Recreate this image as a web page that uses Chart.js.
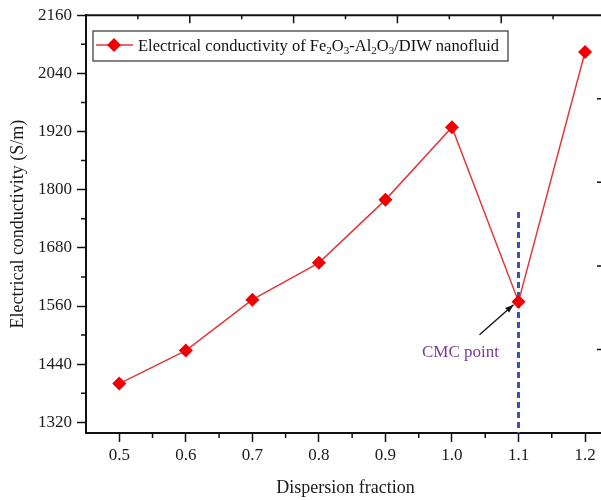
<!DOCTYPE html>
<html>
<head>
<meta charset="utf-8">
<script src="https://cdn.jsdelivr.net/npm/chart.js@4/dist/chart.umd.min.js"></script>
<style>
  html, body { margin: 0; padding: 0; background: #fff; overflow: hidden; }
  #wrap { width: 612px; height: 500px; }
</style>
</head>
<body>
<div id="wrap"><canvas id="chart1" width="612" height="500"></canvas></div>
<script>
const fractions = [0.5, 0.6, 0.7, 0.8, 0.9, 1.0, 1.1, 1.2];
const conductivity = [1400, 1468, 1573, 1649, 1779, 1929, 1569, 2084];

// CMC marker line
const cmcFraction = 1.1;
const cmcLineRange = [1754, 1298];

const xRange = [0.45, 1.23];
const yRange = [1298, 2160];

const legendParts = [
    ['Electrical conductivity of Fe', false], ['2', true], ['O', false], ['3', true],
    ['-Al', false], ['2', true], ['O', false], ['3', true], ['/DIW nanofluid', false]
];

const serif = '"Liberation Serif", "Times New Roman", serif';
const lineRed = '#e0393a';
const markRed = '#f00000';

// minor ticks on the bottom/left axes, plus the inward ticks of the top and right frame
const framePlugin = {
    id: 'frame',
    afterDraw(chart) {
        const { ctx, chartArea: a, scales } = chart;
        ctx.save();
        ctx.strokeStyle = '#111';
        ctx.lineWidth = 1.5;
        ctx.beginPath();
        for (let v = 0.55; v < xRange[1]; v += 0.1) {
            const px = scales.x.getPixelForValue(v);
            ctx.moveTo(px, a.bottom); ctx.lineTo(px, a.bottom + 5);
        }
        for (let v = 1380; v < yRange[1]; v += 120) {
            const py = scales.y.getPixelForValue(v);
            ctx.moveTo(a.left, py); ctx.lineTo(a.left - 5, py);
        }
        for (let i = 1; i < 10; i++) {
            const px = a.left + i * (a.right - a.left) / 10;
            const len = i % 2 ? 4 : 8;
            ctx.moveTo(px, a.top); ctx.lineTo(px, a.top + len);
            const py = a.top + i * (a.bottom - a.top) / 10;
            ctx.moveTo(a.right, py); ctx.lineTo(a.right - len, py);
        }
        ctx.stroke();
        ctx.lineWidth = 2;
        ctx.strokeStyle = '#111';
        ctx.beginPath();
        ctx.moveTo(a.left, a.top); ctx.lineTo(a.right, a.top); ctx.lineTo(a.right, a.bottom);
        ctx.stroke();

        // legend box
        const lx = 93, ly = 31, lw = 415, lh = 30;
        ctx.lineWidth = 1.2;
        ctx.strokeStyle = '#333';
        ctx.strokeRect(lx, ly, lw, lh);
        ctx.strokeStyle = lineRed;
        ctx.lineWidth = 1.5;
        ctx.beginPath(); ctx.moveTo(lx + 3, ly + 14); ctx.lineTo(lx + 40, ly + 14); ctx.stroke();
        ctx.fillStyle = markRed;
        ctx.beginPath();
        ctx.moveTo(lx + 21, ly + 7); ctx.lineTo(lx + 28, ly + 14);
        ctx.lineTo(lx + 21, ly + 21); ctx.lineTo(lx + 14, ly + 14);
        ctx.closePath(); ctx.fill();
        let tx = lx + 45;
        ctx.fillStyle = '#111';
        ctx.textBaseline = 'alphabetic';
        legendParts.forEach(([t, sub]) => {
            ctx.font = (sub ? '11px ' : '16.5px ') + serif;
            ctx.fillText(t, tx, ly + (sub ? 23 : 19.5));
            tx += ctx.measureText(t).width;
        });

        // CMC point label and arrow
        const cx = scales.x.getPixelForValue(cmcFraction);
        const cy = scales.y.getPixelForValue(conductivity[6]);
        ctx.fillStyle = '#7b3a96';
        ctx.font = '17px ' + serif;
        ctx.textAlign = 'center';
        ctx.fillText('CMC point', cx - 58, cy + 55);
        const sx = cx - 39, sy = cy + 33, ex = cx - 5, ey = cy + 3;
        ctx.strokeStyle = '#111';
        ctx.lineWidth = 1.3;
        ctx.beginPath(); ctx.moveTo(sx, sy); ctx.lineTo(ex, ey); ctx.stroke();
        const ang = Math.atan2(ey - sy, ex - sx);
        ctx.fillStyle = '#111';
        ctx.beginPath();
        ctx.moveTo(ex, ey);
        ctx.lineTo(ex - 9 * Math.cos(ang - 0.35), ey - 9 * Math.sin(ang - 0.35));
        ctx.lineTo(ex - 9 * Math.cos(ang + 0.35), ey - 9 * Math.sin(ang + 0.35));
        ctx.closePath(); ctx.fill();
        ctx.restore();
    }
};

const ctx1 = document.getElementById('chart1').getContext('2d');

let chart1 = new Chart(ctx1, {
    type: 'scatter',
    data: {
        datasets: [{
            label: 'Electrical conductivity of Fe₂O₃-Al₂O₃/DIW nanofluid',
            data: fractions.map((f, i) => ({ x: f, y: conductivity[i] })),
            showLine: true,
            borderColor: lineRed,
            borderWidth: 1.5,
            pointStyle: 'rectRot',
            pointRadius: 7,
            pointBackgroundColor: markRed,
            pointBorderColor: markRed,
            pointBorderWidth: 0,
            tension: 0
        }, {
            label: 'CMC',
            data: cmcLineRange.map(v => ({ x: cmcFraction, y: v })),
            showLine: true,
            borderColor: '#3b4fc4',
            borderWidth: 3,
            borderDash: [6, 4],
            pointRadius: 0
        }]
    },
    options: {
        responsive: false,
        animation: false,
        layout: { padding: { top: 14, right: 7, left: 0, bottom: 0 } },
        plugins: {
            legend: { display: false },
            tooltip: { enabled: false }
        },
        scales: {
            x: {
                type: 'linear',
                min: xRange[0],
                max: xRange[1],
                border: { color: '#111', width: 2 },
                grid: { drawOnChartArea: false, tickLength: 9, tickColor: '#111', tickWidth: 1.5 },
                ticks: {
                    stepSize: 0.1,
                    includeBounds: false,
                    padding: 3,
                    color: '#1a1a1a',
                    font: { family: serif, size: 17 },
                    callback: v => v.toFixed(1)
                },
                title: {
                    display: true,
                    text: 'Dispersion fraction',
                    color: '#1a1a1a',
                    font: { family: serif, size: 18 },
                    padding: { top: 2, bottom: 1 }
                },
                afterFit: s => { s.height = 67; }
            },
            y: {
                min: yRange[0],
                max: yRange[1],
                border: { color: '#111', width: 2 },
                grid: { drawOnChartArea: false, tickLength: 9, tickColor: '#111', tickWidth: 1.5 },
                ticks: {
                    stepSize: 120,
                    includeBounds: false,
                    padding: 5,
                    color: '#1a1a1a',
                    font: { family: serif, size: 17 },
                    callback: v => v.toFixed(0)
                },
                title: {
                    display: true,
                    text: 'Electrical conductivity (S/m)',
                    color: '#1a1a1a',
                    font: { family: serif, size: 18 },
                    padding: { top: 7, bottom: 0 }
                },
                afterFit: s => { s.width = 86; }
            }
        }
    },
    plugins: [framePlugin]
});
</script>
</body>
</html>
